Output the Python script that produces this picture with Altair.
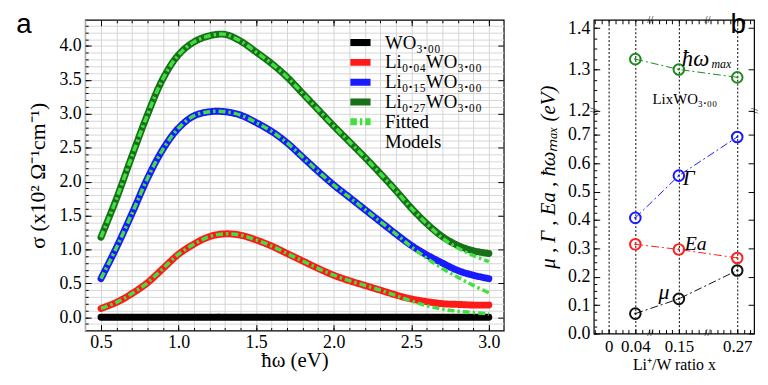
import altair as alt
import numpy as np
import pandas as pd

SERIF = "Liberation Serif"
SANS = "Liberation Sans"

# ---------------- panel a : optical conductivity ----------------
energy = [0.5, 0.6, 0.7, 0.8, 0.9, 1.0, 1.1, 1.2, 1.3, 1.4, 1.5, 1.6, 1.7,
          1.8, 1.9, 2.0, 2.1, 2.2, 2.3, 2.4, 2.5, 2.6, 2.7, 2.8, 2.9, 3.0]
sig_wo3 = [0.0, 0.0, 0.0, 0.0, 0.0, 0.0, 0.0, 0.0, 0.0, 0.0, 0.0, 0.0, 0.0,
           0.0, 0.0, 0.0, 0.0, 0.0, 0.0, 0.0, 0.0, 0.0, 0.0, 0.0, 0.0, 0.0]
sig_li004 = [0.13, 0.22, 0.35, 0.51, 0.72, 0.93, 1.08, 1.19, 1.23, 1.21, 1.14, 1.05, 0.94,
             0.83, 0.72, 0.62, 0.54, 0.47, 0.40, 0.33, 0.27, 0.23, 0.20, 0.19, 0.18, 0.18]
sig_li015 = [0.57, 1.03, 1.53, 2.05, 2.48, 2.79, 2.97, 3.03, 3.03, 2.98, 2.87, 2.74, 2.57,
             2.36, 2.15, 1.95, 1.77, 1.59, 1.41, 1.23, 1.06, 0.92, 0.80, 0.69, 0.62, 0.57]
sig_li027 = [1.18, 1.75, 2.38, 2.99, 3.52, 3.87, 4.06, 4.15, 4.17, 4.07, 3.91, 3.74, 3.54,
             3.30, 3.06, 2.82, 2.59, 2.36, 2.12, 1.87, 1.61, 1.38, 1.19, 1.06, 0.98, 0.94]
fit_li004 = [0.13, 0.22, 0.35, 0.51, 0.72, 0.93, 1.08, 1.19, 1.23, 1.21, 1.14, 1.05, 0.94,
             0.83, 0.72, 0.62, 0.54, 0.47, 0.40, 0.32, 0.24, 0.17, 0.12, 0.09, 0.07, 0.05]
fit_li015 = [0.57, 1.03, 1.53, 2.05, 2.48, 2.79, 2.97, 3.03, 3.03, 2.98, 2.87, 2.74, 2.57,
             2.36, 2.15, 1.95, 1.77, 1.59, 1.41, 1.23, 1.04, 0.87, 0.72, 0.59, 0.47, 0.36]
fit_li027 = [1.18, 1.75, 2.38, 2.99, 3.52, 3.87, 4.06, 4.15, 4.17, 4.07, 3.91, 3.74, 3.54,
             3.30, 3.06, 2.82, 2.59, 2.36, 2.12, 1.87, 1.61, 1.38, 1.17, 1.02, 0.91, 0.82]

series_labels = ["WO\u2083.\u2080\u2080", "Li\u2080.\u2080\u2084WO\u2083.\u2080\u2080",
                 "Li\u2080.\u2081\u2085WO\u2083.\u2080\u2080", "Li\u2080.\u2082\u2087WO\u2083.\u2080\u2080",
                 "Fitted Models"]
series_colors = ["#000000", "#ff1a1a", "#1a1aff", "#187018", "#40e040"]
fit_dash = [7, 3, 2.5, 3]

a_x_major = [0.5, 1.0, 1.5, 2.0, 2.5, 3.0]
a_y_major = [0.0, 0.5, 1.0, 1.5, 2.0, 2.5, 3.0, 3.5, 4.0]

# ---------------- panel b : fitted parameters ----------------
ratio = [0.04, 0.15, 0.27]
p_hw = [1.325, 1.300, 1.281]
p_gamma = [0.407, 0.556, 0.692]
p_ea = [0.314, 0.296, 0.266]
p_mu = [0.070, 0.122, 0.222]
param_names = ["hw", "gamma", "ea", "mu"]
param_colors = ["#1f8a1f", "#1a1aff", "#ff2020", "#111111"]

b_x_labels = [0, 0.04, 0.15, 0.27]
b_y_labels = [0.0, 0.1, 0.2, 0.3, 0.4, 0.5, 0.6, 0.7, 1.2, 1.3, 1.4]

# ---------------- helpers ----------------
def tick_axis(orient, values, size, labels=False, title=None, label_pad=4,
              title_pad=6, title_size=20, label_size=18, title_style="normal", expr=None):
    kw = dict(orient=orient, values=values, ticks=True, tickSize=size, offset=-size,
              tickColor="black", tickWidth=1, domain=False, labels=labels, grid=False,
              labelFlush=False, labelOverlap=False, zindex=1, title=title)
    if labels:
        kw.update(labelFont=SERIF, labelFontSize=label_size, labelPadding=label_pad,
                  labelColor="black")
        if expr:
            kw["labelExpr"] = expr
    if title:
        kw.update(titleFont=SERIF, titleFontSize=title_size, titlePadding=title_pad,
                  titleColor="black", titleFontWeight="normal", titleFontStyle=title_style)
    return alt.Axis(**kw)


def grid_axis(orient, values, color, dash=None, width=1):
    kw = dict(orient=orient, values=values, ticks=False, labels=False, domain=False,
              grid=True, gridColor=color, gridWidth=width, title=None, zindex=0)
    if dash:
        kw["gridDash"] = dash
    return alt.Axis(**kw)


def axis_layer(sx, sy, x0, y0, xaxis, yaxis):
    d = pd.DataFrame({"x": [x0], "y": [y0]})
    return alt.Chart(d).mark_point(opacity=0).encode(
        x=alt.X("x:Q", scale=sx, axis=xaxis),
        y=alt.Y("y:Q", scale=sy, axis=yaxis))


# ---------------- panel a ----------------
sx_a = alt.Scale(domain=[0.398, 3.096], nice=False, zero=False)
sy_a = alt.Scale(domain=[-0.195, 4.385], nice=False, zero=False)

a_x_minor = np.round(np.arange(0.5, 3.001, 0.1), 2).tolist()
a_y_minor = np.round(np.arange(-0.1, 4.301, 0.1), 2).tolist()
a_x_grid = np.round(np.arange(0.4, 3.051, 0.1), 2).tolist()
a_y_grid = np.round(np.arange(-0.1, 4.301, 0.1), 2).tolist()

rows = []
for lab, vals in zip(series_labels[:4], [sig_wo3, sig_li004, sig_li015, sig_li027]):
    for e, s in zip(energy, vals):
        rows.append({"E": e, "s": s, "legend": lab})
df_data = pd.DataFrame(rows)

rows = []
for cid, vals in zip(["f004", "f015", "f027"], [fit_li004, fit_li015, fit_li027]):
    for e, s in zip(energy, vals):
        rows.append({"E": e, "s": s, "curve": cid})
df_fit = pd.DataFrame(rows)

leg = alt.Legend(title=None, orient="none", legendX=268, legendY=13,
                 labelFont=SERIF, labelFontSize=19, labelColor="black",
                 symbolType="M-1.6,0H1.6", symbolSize=169, labelOffset=15, rowPadding=0,
                 clipHeight=20, labelLimit=300,
                 labelExpr="datum.label == 'Fitted Models' ? ['Fitted', 'Models'] : datum.label")

lines_a = alt.Chart(df_data).mark_line(strokeCap="round", strokeJoin="round",
                                        interpolate="catmull-rom").encode(
    x=alt.X("E:Q", scale=sx_a, axis=None),
    y=alt.Y("s:Q", scale=sy_a, axis=None),
    color=alt.Color("legend:N", scale=alt.Scale(domain=series_labels, range=series_colors), legend=leg),
    strokeDash=alt.StrokeDash("legend:N", scale=alt.Scale(domain=series_labels,
                              range=[[1, 0], [1, 0], [1, 0], [1, 0], fit_dash]), legend=leg),
    strokeWidth=alt.StrokeWidth("legend:N", scale=alt.Scale(domain=series_labels,
                                range=[7, 7, 7, 7, 4]), legend=leg),
)

fits_a = alt.Chart(df_fit).mark_line(color=series_colors[4], strokeDash=fit_dash, strokeWidth=3.5,
                                      interpolate="catmull-rom").encode(
    x=alt.X("E:Q", scale=sx_a, axis=None),
    y=alt.Y("s:Q", scale=sy_a, axis=None),
    detail="curve:N")

label_a = alt.Chart(pd.DataFrame({"t": ["a"]})).mark_text(
    font=SANS, fontSize=28, align="center", baseline="middle", color="black").encode(
    text="t:N", x=alt.value(-62), y=alt.value(5))

grid_a = axis_layer(sx_a, sy_a, 1.0, 1.0, grid_axis("bottom", a_x_grid, "#d6d6d6"),
                    grid_axis("left", a_y_grid, "#d6d6d6"))
ax_a1 = axis_layer(sx_a, sy_a, 1.0, 1.0,
                   tick_axis("bottom", a_x_major, 6, labels=True, title="\u0127\u03c9 (eV)",
                             label_pad=3, title_pad=-2, title_size=21),
                   tick_axis("left", a_y_major, 6, labels=True,
                             title="\u03c3 (x10\u00b2 \u03a9\u207b\u00b9cm\u207b\u00b9)",
                             label_pad=4, title_pad=10, title_size=22))
ax_a2 = axis_layer(sx_a, sy_a, 1.0, 1.0, tick_axis("bottom", a_x_minor, 3),
                   tick_axis("left", a_y_minor, 3))
ax_a3 = axis_layer(sx_a, sy_a, 1.0, 1.0, tick_axis("top", a_x_major, 6),
                   tick_axis("right", a_y_major, 6))
ax_a4 = axis_layer(sx_a, sy_a, 1.0, 1.0, tick_axis("top", a_x_minor, 3), None)

panel_a = alt.layer(grid_a, ax_a1, ax_a2, ax_a3, ax_a4, lines_a, fits_a, label_a).resolve_axis(
    x="independent", y="independent").properties(width=423, height=314)

# ---------------- panel b ----------------
sx_b = alt.Scale(domain=[-0.0222, 0.0622, 0.107, 0.193, 0.2256, 0.2952],
                 range=[0, 57, 57, 115, 115, 162], nice=False, zero=False)
sy_b = alt.Scale(domain=[0.0, 0.784, 1.2, 1.42], range=[317, 92, 92, 0], nice=False, zero=False)

b_x_minor = (np.round(np.arange(-0.02, 0.0601, 0.01), 2).tolist()
             + np.round(np.arange(0.11, 0.1901, 0.01), 2).tolist()
             + np.round(np.arange(0.23, 0.2901, 0.01), 2).tolist())
b_y_minor = (np.round(np.arange(0.0, 0.7751, 0.025), 3).tolist()
             + np.round(np.arange(1.2, 1.4201, 0.025), 3).tolist())

rows = []
for name, vals in zip(param_names, [p_hw, p_gamma, p_ea, p_mu]):
    for r, v in zip(ratio, vals):
        rows.append({"r": r, "v": v, "param": name})
df_b = pd.DataFrame(rows)

pcol = alt.Color("param:N", scale=alt.Scale(domain=param_names, range=param_colors), legend=None)
xb = alt.X("r:Q", scale=sx_b, axis=None)
yb = alt.Y("v:Q", scale=sy_b, axis=None)

lines_b = alt.Chart(df_b).mark_line(strokeWidth=1, strokeDash=[8, 3, 2, 3]).encode(
    x=xb, y=yb, color=pcol, detail="param:N")
circ_b = alt.Chart(df_b).mark_point(shape="circle", filled=False, size=115, strokeWidth=2,
                                     opacity=1).encode(x=xb, y=yb, color=pcol)
dot_b = alt.Chart(df_b).mark_point(shape="circle", filled=True, size=5, opacity=1).encode(
    x=xb, y=yb, color=pcol)


def b_text(txt, x, y, size, style="italic", align="left", dx=0, dy=0, font=SERIF, angle=0):
    d = pd.DataFrame({"x": [x], "y": [y], "t": [txt]})
    mk = dict(font=font, fontSize=size, fontStyle=style, align=align, baseline="middle",
              dx=dx, dy=dy, color="black")
    if angle:
        mk["angle"] = angle
    return alt.Chart(d).mark_text(**mk).encode(
        x=alt.X("x:Q", scale=sx_b, axis=None), y=alt.Y("y:Q", scale=sy_b, axis=None),
        text="t:N")


texts_b = [
    b_text("\u0127\u03c9", ratio[1], p_hw[1], 23, dx=3, dy=-11),
    b_text("max", ratio[1], p_hw[1], 12, dx=33, dy=-6),
    b_text("LixWO\u2083.\u2080\u2080", ratio[1], p_hw[1], 15, style="normal", align="center", dx=6, dy=30),
    b_text("\u0393", ratio[1], p_gamma[1], 21, dx=4, dy=4),
    b_text("Ea", ratio[1], p_ea[1], 20, dx=6, dy=-5),
    b_text("\u03bc", ratio[1], p_mu[1], 22, align="center", dx=-15, dy=-7),
]

brk = []
for bx in [0.085, 0.21]:
    for by in [0.0, 1.42]:
        brk.append(b_text("//", bx, by, 11, style="normal", align="center"))
brk.append(b_text("//", -0.0222, 1.0, 12, style="normal", align="center", angle=90))
brk.append(b_text("//", 0.2952, 1.0, 10, style="normal", align="center", angle=90))

label_b = alt.Chart(pd.DataFrame({"t": ["b"]})).mark_text(
    font=SANS, fontSize=28, align="center", baseline="middle", color="black").encode(
    text="t:N", x=alt.value(146), y=alt.value(5))

grid_b = axis_layer(sx_b, sy_b, 0.04, 0.3, grid_axis("bottom", b_x_labels, "black", dash=[2, 2]), None)
ax_b1 = axis_layer(sx_b, sy_b, 0.04, 0.3,
                   tick_axis("bottom", b_x_labels, 4, labels=True, title="Li\u207a/W ratio x",
                             label_pad=5, title_pad=2, title_size=16, label_size=17,
                             expr="format(datum.value, '.2~f')"),
                   tick_axis("left", b_y_labels, 6, labels=True,
                             title="\u03bc ,  \u0393 ,  Ea ,  \u0127\u03c9\u2098\u2090\u2093  (eV)",
                             label_pad=4, title_pad=9, title_size=21, title_style="italic"))
ax_b2 = axis_layer(sx_b, sy_b, 0.04, 0.3, tick_axis("bottom", b_x_minor, 4),
                   tick_axis("left", b_y_minor, 3))
ax_b3 = axis_layer(sx_b, sy_b, 0.04, 0.3, tick_axis("top", b_x_minor, 4),
                   tick_axis("right", b_y_labels, 6))

panel_b = alt.layer(grid_b, ax_b1, ax_b2, ax_b3, lines_b, circ_b, dot_b, *texts_b, *brk,
                    label_b).resolve_axis(x="independent", y="independent").properties(
    width=162, height=317)

chart = alt.hconcat(panel_a, panel_b, spacing=91, bounds="flush").resolve_scale(
    color="independent", strokeDash="independent", strokeWidth="independent"
).properties(
    padding={"left": 7, "top": 0, "right": 0, "bottom": 0}
).configure_view(stroke="black", strokeWidth=1.2).configure_text(font=SERIF)

chart.save("out.html", embed_options={"renderer": "svg", "actions": False})
